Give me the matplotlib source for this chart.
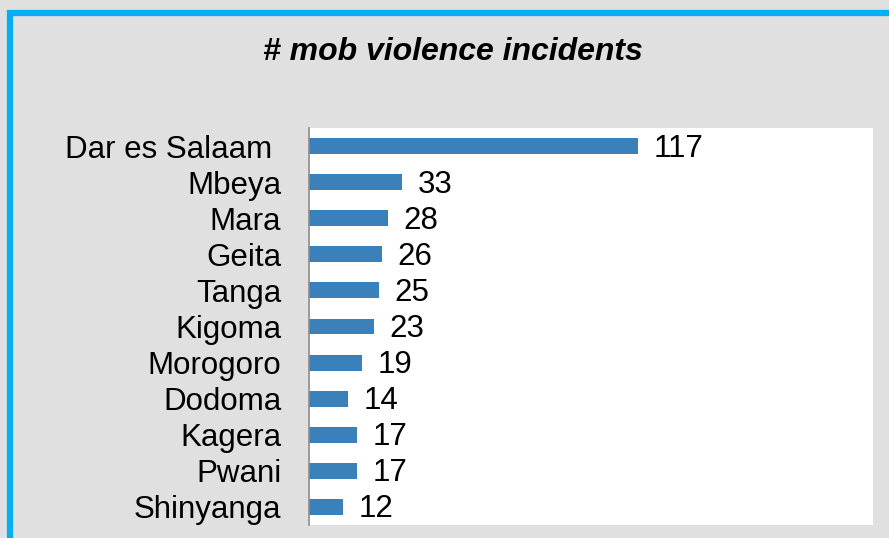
import matplotlib
matplotlib.use("Agg")
import matplotlib.pyplot as plt
from matplotlib.patches import Rectangle

# data
regions = ["Dar es Salaam ", "Mbeya", "Mara", "Geita", "Tanga", "Kigoma",
           "Morogoro", "Dodoma", "Kagera", "Pwani", "Shinyanga"]
incidents = [117, 33, 28, 26, 25, 23, 19, 14, 17, 17, 12]

plt.rcParams['font.family'] = ['Liberation Sans', 'DejaVu Sans']

W, H = 889, 538
fig = plt.figure(figsize=(W / 100, H / 100), dpi=100)
fig.patch.set_facecolor('#e0e0e0')

# blue frame (top and left edges visible)
fig.patches.append(Rectangle((10 / W, -0.1), 1.2, 1 - 13 / H + 0.1,
                             transform=fig.transFigure, fill=False,
                             edgecolor='#00b0f0', linewidth=4.5))

ax = fig.add_axes([309 / W, (H - 525) / H, (873 - 309) / W, (525 - 128) / H])
ax.set_facecolor('white')

y = list(range(len(regions)))
ax.barh(y, incidents, height=0.44, color='#3a80bb')
ax.set_ylim(len(regions) - 0.5, -0.5)
ax.set_xlim(0, 200.5)

for yi, v in zip(y, incidents):
    ax.text(v + 5.5, yi + 0.07, str(v), va='center', ha='left', fontsize=22.5, color='black')

ax.set_yticks(y)
ax.set_yticklabels(regions, fontsize=22.5)
ax.tick_params(axis='y', length=0, pad=20)
ax.set_xticks([])

for s in ['top', 'right', 'bottom']:
    ax.spines[s].set_visible(False)
ax.spines['left'].set_color('#8c8c8c')
ax.spines['left'].set_linewidth(1.2)

fig.text(453 / W, 1 - 52 / H, "# mob violence incidents", ha='center', va='center',
         fontsize=23, fontweight='bold', fontstyle='italic')

fig.savefig('out.png', dpi=100, facecolor=fig.get_facecolor())
